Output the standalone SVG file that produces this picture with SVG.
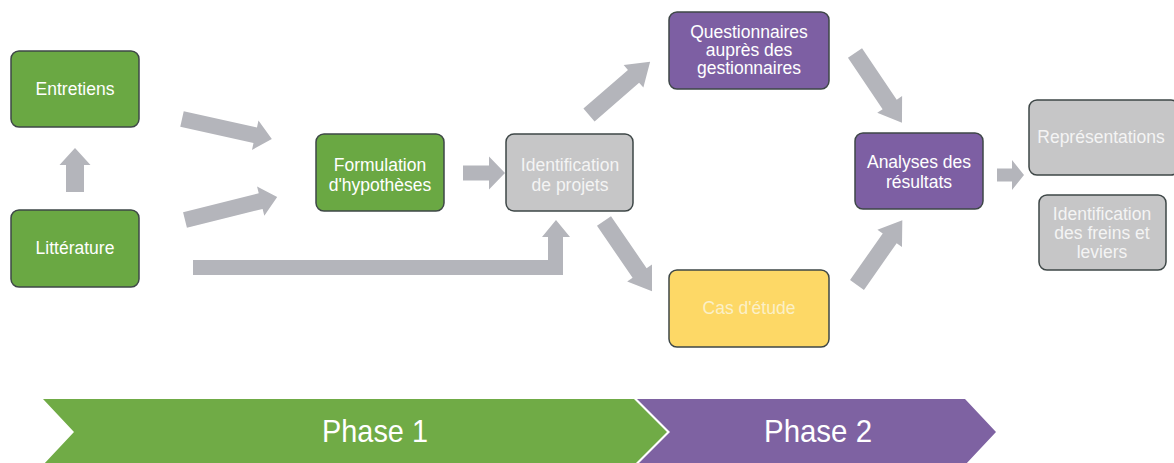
<svg xmlns="http://www.w3.org/2000/svg" width="1174" height="463" viewBox="0 0 1174 463">
<style>
.box{stroke:#3e4747;stroke-width:1.5}
.green{fill:#6aa843}
.purple{fill:#7d5fa3}
.gray{fill:#c6c6c7}
.yellow{fill:#fdd866}
.t{font-family:"Liberation Sans",Arial,sans-serif;font-size:17.5px;text-anchor:middle;fill:#ffffff}
.tg{fill:#f4f4f4}
.ty{fill:#fbf0c8}
.arrow{fill:#b4b5bb}
.ph{font-family:"Liberation Sans",Arial,sans-serif;font-size:32px;fill:#ffffff;text-anchor:middle}
</style>
<rect width="1174" height="463" fill="#ffffff"/>
<g id="connectors">
<polygon class="arrow" transform="translate(182,119) rotate(12.5)" points="0,-8 75,-8 75,-15 92,0 75,15 75,8 0,8"/>
<polygon class="arrow" transform="translate(185,220) rotate(-14)" points="0,-8 78,-8 78,-15 95,0 78,15 78,8 0,8"/>
<polygon class="arrow" transform="translate(75,192) rotate(-90)" points="0,-9 27,-9 27,-15.5 44,0 27,15.5 27,9 0,9"/>
<polygon class="arrow" points="193,260 548,260 548,237 542,237 556,220 570,237 563,237 563,275 193,275"/>
<polygon class="arrow" transform="translate(463,173)" points="0,-7.5 26,-7.5 26,-16.5 42,0 26,16.5 26,7.5 0,7.5"/>
<polygon class="arrow" transform="translate(589,115) rotate(-41)" points="0,-8.5 59,-8.5 59,-15 81,0 59,15 59,8.5 0,8.5"/>
<polygon class="arrow" transform="translate(604,221) rotate(55.6)" points="0,-8.5 63,-8.5 63,-15 85,0 63,15 63,8.5 0,8.5"/>
<polygon class="arrow" transform="translate(855,53) rotate(56)" points="0,-8.5 62,-8.5 62,-15 84,0 62,15 62,8.5 0,8.5"/>
<polygon class="arrow" transform="translate(857,285) rotate(-55)" points="0,-8.5 57,-8.5 57,-15 79,0 57,15 57,8.5 0,8.5"/>
<polygon class="arrow" transform="translate(997,175)" points="0,-6.5 15,-6.5 15,-15 27,0 15,15 15,6.5 0,6.5"/>
</g>
<g id="entretiens">
<rect class="box green" x="11" y="51" width="128" height="76" rx="8"/>
<text class="t" x="75" y="95">Entretiens</text>
</g>
<g id="litterature">
<rect class="box green" x="11" y="210" width="128" height="77" rx="8"/>
<text class="t" x="75" y="254">Littérature</text>
</g>
<g id="formulation">
<rect class="box green" x="316" y="134" width="128" height="77" rx="8"/>
<text class="t" x="380" y="171">Formulation</text>
<text class="t" x="380" y="191">d'hypothèses</text>
</g>
<g id="identification-projets">
<rect class="box gray" x="506" y="134" width="127" height="77" rx="8"/>
<text class="t tg" x="570" y="171">Identification</text>
<text class="t tg" x="570" y="191">de projets</text>
</g>
<g id="questionnaires">
<rect class="box purple" x="669" y="12" width="160" height="77" rx="8"/>
<text class="t" x="749" y="38">Questionnaires</text>
<text class="t" x="749" y="56">auprès des</text>
<text class="t" x="749" y="74">gestionnaires</text>
</g>
<g id="cas-etude">
<rect class="box yellow" x="669" y="270" width="160" height="77" rx="8"/>
<text class="t ty" x="749" y="314">Cas d'étude</text>
</g>
<g id="analyses">
<rect class="box purple" x="855" y="133" width="128" height="76" rx="8"/>
<text class="t" x="919" y="168">Analyses des</text>
<text class="t" x="919" y="188">résultats</text>
</g>
<g id="representations">
<rect class="box gray" x="1029" y="100" width="150" height="75" rx="8"/>
<text class="t tg" x="1101" y="143">Représentations</text>
</g>
<g id="freins-leviers">
<rect class="box gray" x="1039" y="195" width="127" height="75" rx="8"/>
<text class="t tg" x="1102" y="220">Identification</text>
<text class="t tg" x="1102" y="239">des freins et</text>
<text class="t tg" x="1102" y="258">leviers</text>
</g>
<g id="phase1">
<polygon fill="#70ab46" points="43,399 634,399 667,432 634,465 43,465 74,432"/>
<text class="ph" x="375" y="442" textLength="106" lengthAdjust="spacingAndGlyphs">Phase 1</text>
</g>
<g id="phase2">
<polygon fill="#7e62a2" points="637,399 965,399 996,432 965,465 637,465 670,432"/>
<text class="ph" x="818" y="442" textLength="108" lengthAdjust="spacingAndGlyphs">Phase 2</text>
</g>
</svg>
